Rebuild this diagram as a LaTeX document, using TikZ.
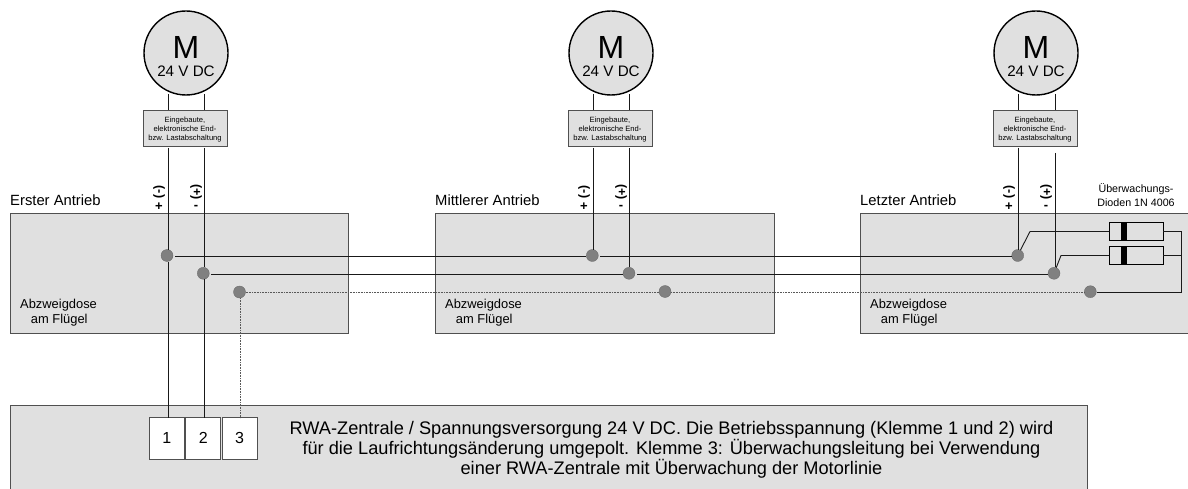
\documentclass[tikz,border=0pt]{standalone}
\usepackage{fontspec}
\setmainfont{Liberation Sans}
\definecolor{boxgrey}{HTML}{E0E0E0}
\definecolor{edgegrey}{HTML}{505050}
\definecolor{dotgrey}{HTML}{808080}
\tikzset{
  x=1pt,y=-1pt,
  panel/.style={draw=edgegrey,fill=boxgrey,line width=1pt,anchor=north west,inner sep=0pt,outer sep=0pt},
  motor/.style={circle,draw=black,fill=boxgrey,line width=1.4pt,minimum size=84pt,inner sep=0pt,outer sep=0pt},
  cutoff/.style={draw=edgegrey,fill=boxgrey,line width=0.9pt,minimum width=84pt,minimum height=36pt,inner sep=0pt,outer sep=0pt},
  cutofflab/.style={inner sep=0pt,align=center,font=\fontsize{7.6}{9}\selectfont},
  bigm/.style={font=\fontsize{32}{32}\selectfont,inner sep=0pt},
  volts/.style={font=\fontsize{15.2}{17}\selectfont,inner sep=0pt},
  wire/.style={draw=black!90,line width=0.9pt},
  sense/.style={draw=black!65,line width=0.7pt,dash pattern=on 1pt off 0.6pt},
  junction/.style={circle,fill=dotgrey,draw=dotgrey!80!black,line width=0.3pt,minimum size=12pt,inner sep=0pt,outer sep=0pt},
  lab/.style={font=\fontsize{14.8}{16}\selectfont,anchor=west,inner sep=0pt},
  polA/.style={font=\fontsize{12.5}{12}\bfseries\selectfont,rotate=-90,inner sep=0pt},
  polB/.style={font=\fontsize{13}{13}\bfseries\selectfont,inner sep=0pt},
  terminal/.style={draw=edgegrey,fill=white,line width=1pt,minimum width=35pt,minimum height=42pt,inner sep=0pt,outer sep=0pt,font=\fontsize{16}{18}\selectfont},
  diode/.style={draw=black,fill=boxgrey,line width=1pt,minimum width=54pt,minimum height=18pt,inner sep=0pt,outer sep=0pt},
  diodebar/.style={fill=black,minimum width=5.5pt,minimum height=18pt,inner sep=0pt,outer sep=0pt}
}
\newcommand{\cutofftext}{Eingebaute,\\elektronische End-\\bzw. Lastabschaltung}
\begin{document}
\begin{tikzpicture}
\useasboundingbox (0,0) rectangle (1188,489);
% panels
\node[panel,minimum width=338pt,minimum height=120pt] (p1) at (10,213) {};
\node[panel,minimum width=339pt,minimum height=120pt] (p2) at (435,213) {};
\node[panel,minimum width=330pt,minimum height=120pt] (p3) at (860,213) {};
\node[panel,minimum width=1077pt,minimum height=86pt] (zent) at (10,405) {};
% motors and cut-offs
\foreach \i/\cx in {1/186,2/611,3/1036}{
  \node[motor] (m\i) at (\cx,53) {};
  \node[bigm] (ml\i) at (\cx,47) {M};
  \node[volts] (vl\i) at (\cx,71) {24 V DC};
  \node[cutoff] (c\i) at (\cx-1,128.5) {};
  \node[cutofflab] (cl\i) at (\cx-1,130) {\cutofftext};
}
% terminals
\node[terminal] (t1) at (166.8,438.3) {1};
\node[terminal] (t2) at (203.3,438.3) {2};
\node[terminal] (t3) at (239.6,438.3) {3};
% junctions
\node[junction] (a1) at (167,255.5) {};
\node[junction] (b1) at (203.3,273.3) {};
\node[junction] (s1) at (239.5,292) {};
\node[junction] (a2) at (592.3,255.5) {};
\node[junction] (b2) at (629,273.3) {};
\node[junction] (s2) at (665,291.5) {};
\node[junction] (a3) at (1017.7,255.5) {};
\node[junction] (b3) at (1054,273.3) {};
\node[junction] (s3) at (1090.3,291.7) {};
% diodes
\node[diode] (d1) at (1136.3,231.5) {};
\node[diodebar] at (1124,231.5) {};
\node[diode] (d2) at (1136.3,255.5) {};
\node[diodebar] at (1124,255.5) {};
\coordinate (railtop) at (1181.5,231.5);
\coordinate (railmid) at (1181.5,255.5);
\coordinate (railbot) at (1181.5,292.5);
\coordinate (k1) at (1030,231.5);
\coordinate (k2) at (1061,255.5);
% wires
\foreach \wx in {168.5,204.5,593.5,629.5,1018.5,1055.5}{
  \draw[wire] (\wx,94) -- (\wx,110);
}
\draw[wire] (168.5,148) -- (168.5,250);
\draw[wire] (204.5,148) -- (204.5,267);
\draw[wire] (593.5,148) -- (593.5,250);
\draw[wire] (629.5,148) -- (629.5,267);
\draw[wire] (1018.5,148) -- (1018.5,250);
\draw[wire] (1055.5,153) -- (1055.5,267);
\draw[wire] (168.5,262) -- (168.5,418);
\draw[wire] (204.5,279) -- (204.5,418);
\draw[sense] (240.5,298) -- (240.5,418);
\draw[wire] ([shift={(8,1)}]a1.center) -- ([shift={(-6,1)}]a2.center);
\draw[wire] ([shift={(8,1)}]a2.center) -- ([shift={(-6,1)}]a3.center);
\draw[wire] ([shift={(8,1.2)}]b1.center) -- ([shift={(-6,1.2)}]b2.center);
\draw[wire] ([shift={(8,1.2)}]b2.center) -- ([shift={(-6,1.2)}]b3.center);
\draw[sense] ([shift={(6,0.5)}]s1.center) -- ([shift={(-6,1)}]s2.center);
\draw[sense] ([shift={(6,1)}]s2.center) -- ([shift={(-6,0.8)}]s3.center);
\draw[wire] (a3) -- (k1) -- (d1.west);
\draw[wire] (b3) -- (k2) -- (d2.west);
\draw[wire] (d1.east) -- (railtop) -- (railmid) -- (railbot) -- ([shift={(7,0.8)}]s3.center);
\draw[wire] (d2.east) -- (railmid);
% labels
\node[lab] (l1) at (10,200) {Erster Antrieb};
\node[lab] (l2) at (435,200) {Mittlerer Antrieb};
\node[lab] (l3) at (860,200) {Letzter Antrieb};
\node[font=\fontsize{10.7}{13.5}\selectfont,align=center,inner sep=0pt] (dl) at (1136,195) {Überwachungs-\\Dioden 1N 4006};
\foreach \px/\sa/\sb [count=\i] in {159/(-)/+,196/(+)/-,584/(-)/+,621/(+)/-,1009/(-)/+,1046/(+)/-}{
  \node[polA] (pa\i) at (\px,192) {\sa};
  \node[polB] (pb\i) at (\px,207) {\sb};
}
\foreach \lx/\n in {20/1,445/2,870/3}{
  \node[font=\fontsize{12.9}{15}\selectfont,align=left,inner sep=0pt,anchor=north west] (ab\n) at (\lx,299) {Abzweigdose\\\ \ \ am Flügel};
}
\node[font=\fontsize{18.2}{20}\selectfont,align=center,inner sep=0pt] (zt) at (671.5,450) {RWA-Zentrale / Spannungsversorgung 24 V DC. Die Betriebsspannung (Klemme 1 und 2) wird\\für die Laufrichtungsänderung umgepolt. Klemme 3: Überwachungsleitung bei Verwendung\\einer RWA-Zentrale mit Überwachung der Motorlinie};
\end{tikzpicture}
\end{document}
